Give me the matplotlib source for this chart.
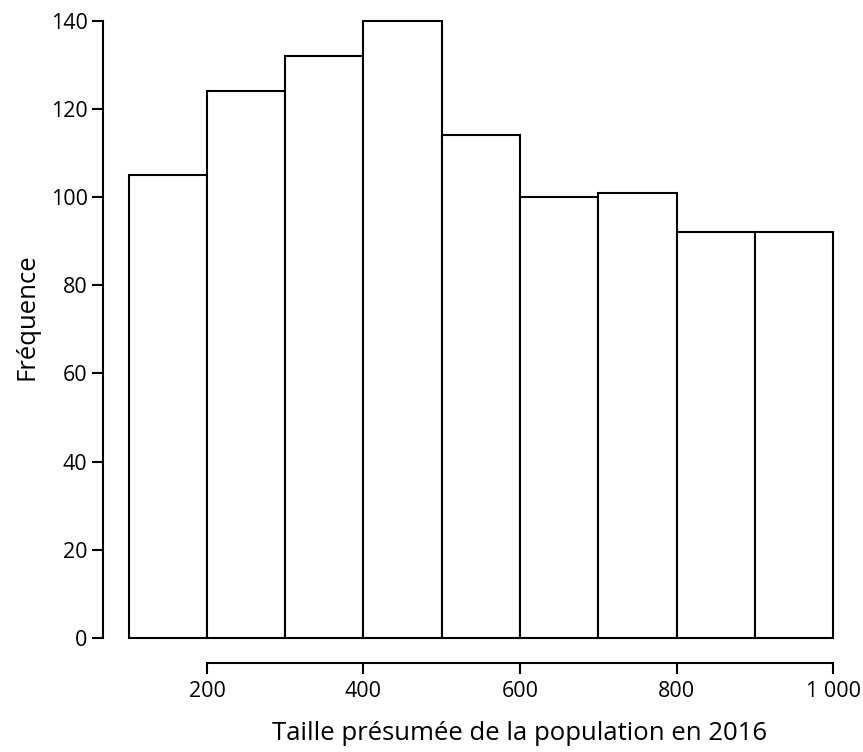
import matplotlib
matplotlib.use("Agg")
import matplotlib.pyplot as plt
import numpy as np

# histogram data
bin_edges = [100, 200, 300, 400, 500, 600, 700, 800, 900, 1000]
counts = [105, 124, 132, 140, 114, 100, 101, 92, 92]
x_ticks = [200, 400, 600, 800, 1000]
x_tick_labels = ["200", "400", "600", "800", "1 000"]
y_ticks = [0, 20, 40, 60, 80, 100, 120, 140]

plt.rcParams['font.family'] = ['Open Sans', 'DejaVu Sans']

fig = plt.figure(figsize=(8.63, 7.52), dpi=100)
ax = fig.add_axes([0.1038, 0.0931, 0.8796, 0.891])

lefts = np.array(bin_edges[:-1])
widths = np.diff(bin_edges)
ax.bar(lefts, counts, width=widths, align="edge", facecolor="white",
       edgecolor="black", linewidth=1.5)

ax.set_xlim(50, 1020)
ax.set_ylim(-10, 142)

for s in ["top", "right"]:
    ax.spines[s].set_visible(False)
ax.spines["left"].set_position(("data", 67))
ax.spines["left"].set_bounds(0, 140)
ax.spines["bottom"].set_position(("data", -5.7))
ax.spines["bottom"].set_bounds(200, 1000)
ax.spines["left"].set_linewidth(1.5)
ax.spines["bottom"].set_linewidth(1.5)

ax.set_xticks(x_ticks)
ax.set_xticklabels(x_tick_labels)
ax.set_yticks(y_ticks)
ax.tick_params(direction="out", length=8, width=1.5, labelsize=15.5, colors="black")
ax.tick_params(axis="x", pad=5)
ax.tick_params(axis="y", pad=3)

ax.set_ylabel("Fréquence", fontsize=18.5)
ax.set_xlabel("Taille présumée de la population en 2016", fontsize=18.5)
ax.yaxis.set_label_coords(-0.066, 0.545)
ax.xaxis.set_label_coords(0.567, -0.058)

fig.savefig("out.png", dpi=100)
